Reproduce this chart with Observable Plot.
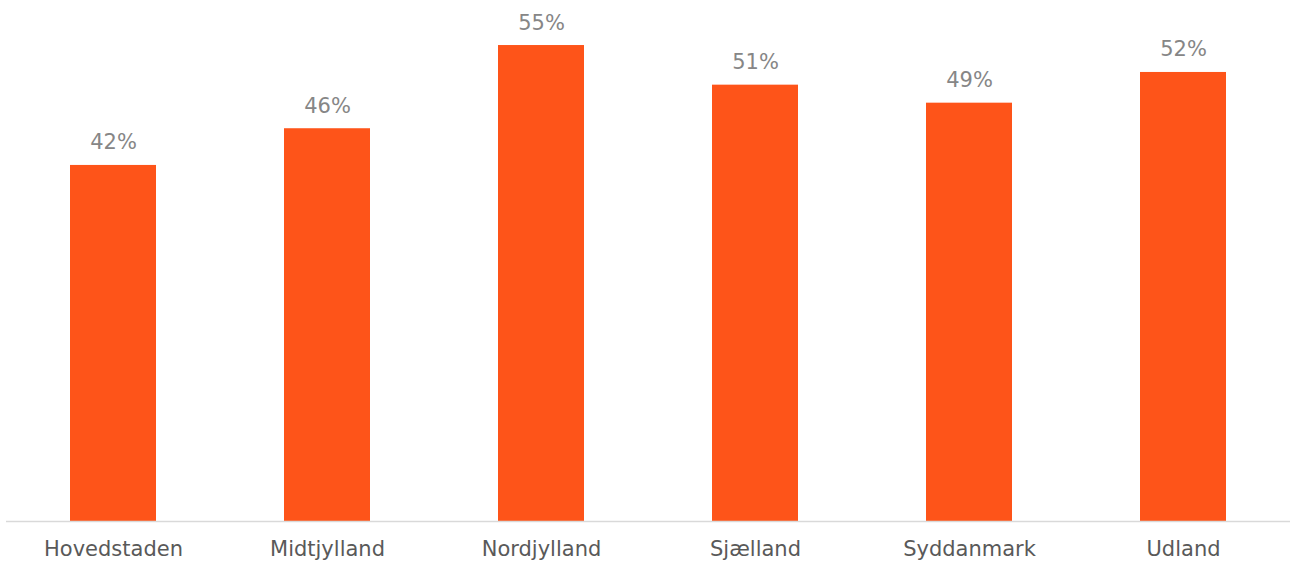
<!DOCTYPE html>
<html>
<head>
<meta charset="utf-8">
<script src="https://cdn.jsdelivr.net/npm/d3@7"></script>
<script src="https://cdn.jsdelivr.net/npm/@observablehq/plot@0.6"></script>
<style>
  html, body { margin: 0; padding: 0; background: #fff; }
  #chart svg { display: block; }
</style>
</head>
<body>
<div id="chart"></div>
<script>
const regions = ["Hovedstaden", "Midtjylland", "Nordjylland", "Sjælland", "Syddanmark", "Udland"];
const shares = [0.4151, 0.4579, 0.5549, 0.5087, 0.4877, 0.5235];
const valueLabels = ["42%", "46%", "55%", "51%", "49%", "52%"];

const data = regions.map((r, i) => ({region: r, share: shares[i], label: valueLabels[i]}));

const chart = Plot.plot({
  width: 1292,
  height: 564,
  marginTop: 0,
  marginBottom: 43,
  marginLeft: 6,
  marginRight: 2,
  style: {fontFamily: "'DejaVu Sans', Verdana, sans-serif", background: "#fff"},
  x: {domain: regions, paddingInner: 0.6, paddingOuter: 0.3, label: null},
  y: {domain: [0, 0.6074], axis: null},
  marks: [
    Plot.barY(data, {x: "region", y: "share", fill: "#FE5419"}),
    Plot.ruleY([0], {stroke: "#d9d9d9", strokeWidth: 1.5}),
    Plot.text(data, {x: "region", y: "share", text: "label", dy: -16, lineAnchor: "bottom", fill: "#868686", fontSize: 21}),
    Plot.axisX({tickSize: 0, tickPadding: 20, fontSize: 21, color: "#595959", label: null})
  ]
});
document.getElementById("chart").append(chart);
</script>
</body>
</html>
